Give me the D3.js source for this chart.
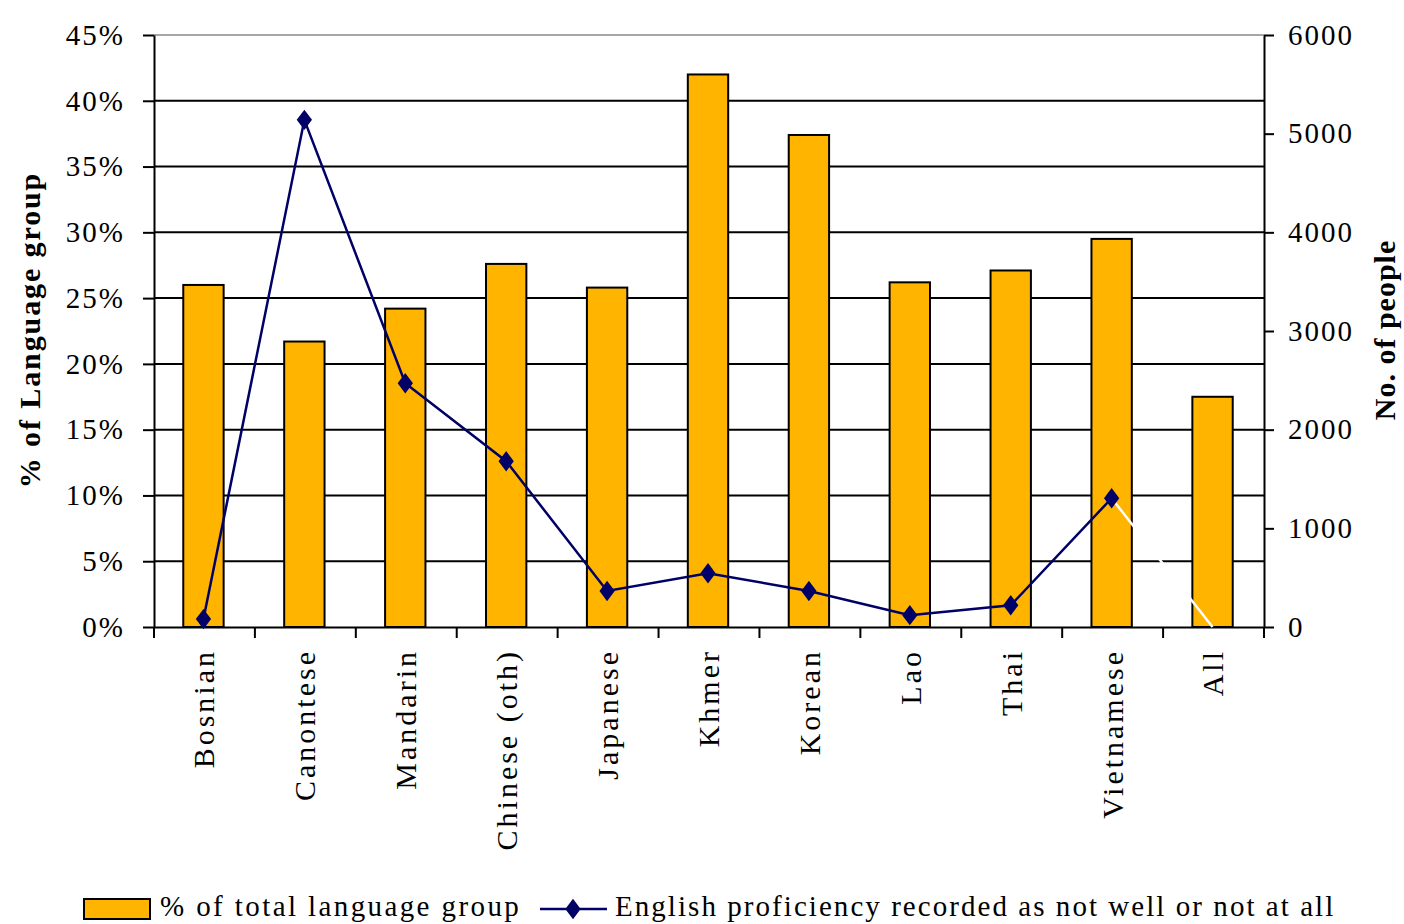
<!DOCTYPE html>
<html>
<head>
<meta charset="utf-8">
<script src="https://cdn.jsdelivr.net/npm/d3@7"></script>
<style>
  html, body { margin: 0; padding: 0; background: #fff; }
  svg text { font-family: "Liberation Serif", "Times New Roman", serif; fill: #000; }
</style>
</head>
<body>
<div id="chart"></div>
<script>
// Data
const categories = ["Bosnian", "Canontese", "Mandarin", "Chinese (oth)", "Japanese", "Khmer",
                    "Korean", "Lao", "Thai", "Vietnamese", "All"];
const pctOfGroup = [0.260, 0.217, 0.242, 0.276, 0.258, 0.420, 0.374, 0.262, 0.271, 0.295, 0.175];
const notWellCount = [80, 5140, 2470, 1680, 365, 545, 365, 120, 220, 1305, 0];
const leftTicks = [0, 0.05, 0.10, 0.15, 0.20, 0.25, 0.30, 0.35, 0.40, 0.45];
const rightTicks = [0, 1000, 2000, 3000, 4000, 5000, 6000];

const W = 1404, H = 924;
const plot = { left: 154, right: 1264, top: 35, bottom: 627 };

const svg = d3.select("#chart").append("svg")
    .attr("width", W)
    .attr("height", H);

const x = d3.scaleBand()
    .domain(categories)
    .range([plot.left, plot.right])
    .padding(0);

const yL = d3.scaleLinear().domain([0, 0.45]).range([plot.bottom, plot.top]);
const yR = d3.scaleLinear().domain([0, 6000]).range([plot.bottom, plot.top]);

// top border of plot area
svg.append("line")
    .attr("x1", plot.left).attr("x2", plot.right)
    .attr("y1", yL(0.45)).attr("y2", yL(0.45))
    .attr("stroke", "#888").attr("stroke-width", 1.5);

// gridlines
svg.append("g")
    .selectAll("line")
    .data(leftTicks.filter(t => t > 0 && t < 0.45))
    .join("line")
    .attr("x1", plot.left).attr("x2", plot.right)
    .attr("y1", d => yL(d)).attr("y2", d => yL(d))
    .attr("stroke", "#000").attr("stroke-width", 2);

// bars
const barW = x.bandwidth() * 0.4;
svg.append("g")
    .selectAll("rect")
    .data(categories)
    .join("rect")
    .attr("x", d => x(d) + (x.bandwidth() - barW) / 2 - 1)
    .attr("y", (d, i) => yL(pctOfGroup[i]))
    .attr("width", barW)
    .attr("height", (d, i) => yL(0) - yL(pctOfGroup[i]))
    .attr("fill", "#FFB400")
    .attr("stroke", "#000")
    .attr("stroke-width", 2);

// left axis
const leftAxis = svg.append("g")
    .attr("transform", "translate(" + plot.left + ",0)")
    .call(d3.axisLeft(yL).tickValues(leftTicks).tickFormat(d3.format(".0%"))
        .tickSizeInner(11).tickSizeOuter(0).tickPadding(18));

// right axis
const rightAxis = svg.append("g")
    .attr("transform", "translate(" + plot.right + ",0)")
    .call(d3.axisRight(yR).tickValues(rightTicks).tickFormat(d3.format("d"))
        .tickSizeInner(10).tickSizeOuter(0).tickPadding(14));

// bottom axis
const bottomAxis = svg.append("g")
    .attr("transform", "translate(0," + plot.bottom + ")")
    .call(d3.axisBottom(x).tickSize(0).tickPadding(0));

bottomAxis.selectAll(".tick line").remove();
bottomAxis.selectAll(".boundary")
    .data(d3.range(categories.length + 1))
    .join("line")
    .attr("class", "boundary")
    .attr("x1", i => plot.left + i * x.step())
    .attr("x2", i => plot.left + i * x.step())
    .attr("y1", 0).attr("y2", 11)
    .attr("stroke", "#000").attr("stroke-width", 2);

[leftAxis, rightAxis, bottomAxis].forEach(g => {
    g.select(".domain").attr("stroke", "#000").attr("stroke-width", 2);
    g.selectAll(".tick line").attr("stroke", "#000").attr("stroke-width", 2);
    g.selectAll("text")
        .attr("font-family", "Liberation Serif")
        .attr("font-size", 29)
        .attr("letter-spacing", 2)
        .attr("fill", "#000");
});

bottomAxis.selectAll(".tick text")
    .attr("transform", "translate(0,22) rotate(-90)")
    .attr("text-anchor", "end")
    .attr("x", 0).attr("y", 0)
    .attr("dy", "0.33em")
    .attr("font-size", 30)
    .attr("letter-spacing", 3);

// line series
const pts = categories.map((c, i) => ({ x: x(c) + x.bandwidth() / 2 - 1, y: yR(notWellCount[i]) }));
const lineGen = d3.line().x(d => d.x).y(d => d.y);

// last segment (Vietnamese -> All) is drawn white in the original
svg.append("path")
    .attr("d", lineGen(pts.slice(pts.length - 2)))
    .attr("fill", "none")
    .attr("stroke", "#fff")
    .attr("stroke-width", 2.5);

svg.append("path")
    .attr("d", lineGen(pts.slice(0, pts.length - 1)))
    .attr("fill", "none")
    .attr("stroke", "#000066")
    .attr("stroke-width", 2.5);

const diamond = d3.symbol().type(d3.symbolDiamond).size(120);
svg.append("g")
    .selectAll("path")
    .data(pts.slice(0, pts.length - 1))
    .join("path")
    .attr("transform", d => "translate(" + d.x + "," + d.y + ") scale(1.3,1)")
    .attr("d", diamond)
    .attr("fill", "#000066");

// axis titles
svg.append("text")
    .attr("transform", "translate(40,330) rotate(-90)")
    .attr("text-anchor", "middle")
    .attr("font-size", 30)
    .attr("font-weight", "bold")
    .attr("letter-spacing", 1.9)
    .text("% of Language group");

svg.append("text")
    .attr("transform", "translate(1395,330) rotate(-90)")
    .attr("text-anchor", "middle")
    .attr("font-size", 30)
    .attr("font-weight", "bold")
    .attr("letter-spacing", 1)
    .text("No. of people");

// legend
const legend = svg.append("g");
legend.append("rect")
    .attr("x", 84).attr("y", 899)
    .attr("width", 66).attr("height", 20)
    .attr("fill", "#FFB400")
    .attr("stroke", "#000").attr("stroke-width", 2);
legend.append("text")
    .attr("x", 160).attr("y", 916)
    .attr("font-size", 29)
    .attr("letter-spacing", 2.4)
    .text("% of total language group");
legend.append("line")
    .attr("x1", 540).attr("x2", 607)
    .attr("y1", 909).attr("y2", 909)
    .attr("stroke", "#000066").attr("stroke-width", 2.5);
legend.append("path")
    .attr("transform", "translate(573,909) scale(1.3,1)")
    .attr("d", diamond)
    .attr("fill", "#000066");
legend.append("text")
    .attr("x", 615).attr("y", 916)
    .attr("font-size", 29)
    .attr("letter-spacing", 2.05)
    .text("English proficiency recorded as not well or not at all");
</script>
</body>
</html>
